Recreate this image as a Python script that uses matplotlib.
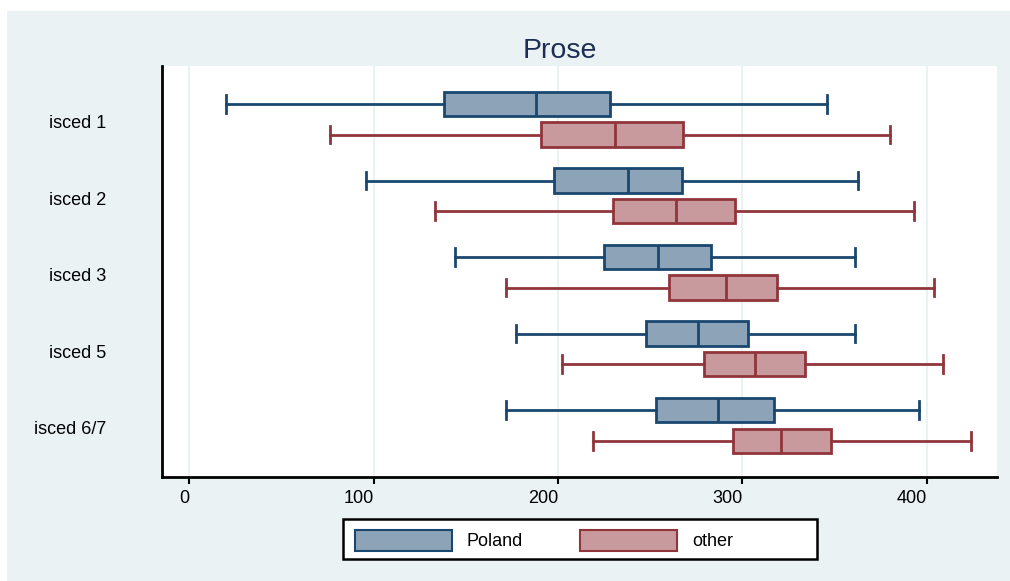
import matplotlib.pyplot as plt
import matplotlib.transforms as mtransforms
from matplotlib.patches import Rectangle

# Prose scores by education level: five-number summaries per group
levels = ["isced 1", "isced 2", "isced 3", "isced 5", "isced 6/7"]

poland_lo = [20, 96, 144, 177, 172]
poland_q1 = [138, 198, 225, 248, 253]
poland_med = [188, 238, 254, 276, 287]
poland_q3 = [228, 267, 283, 303, 317]
poland_hi = [346, 363, 361, 361, 396]

other_lo = [76, 133, 172, 202, 219]
other_q1 = [191, 230, 260, 279, 295]
other_med = [231, 264, 291, 307, 321]
other_q3 = [268, 296, 319, 334, 348]
other_hi = [380, 393, 404, 409, 424]

xticks = [0, 100, 200, 300, 400]

navy = "#1A476F"
navy_fill = "#8DA3B7"
maroon = "#90353B"
maroon_fill = "#C89A9D"
bg = "#EAF2F3"

plt.rcParams["font.family"] = ["Liberation Sans", "DejaVu Sans"]


def make_stats(lo, q1, med, q3, hi):
    return [dict(whislo=a, q1=b, med=c, q3=d, whishi=e, fliers=[])
            for a, b, c, d, e in zip(lo, q1, med, q3, hi)]


fig = plt.figure(figsize=(10.1, 5.81), dpi=100)
fig.patch.set_facecolor("white")
# graph region
fig.patches.append(Rectangle((7 / 1010, 0), 1 - 7 / 1010, 1 - 11 / 581,
                             transform=fig.transFigure, facecolor=bg,
                             edgecolor="none", zorder=-1))

ax = fig.add_axes([162 / 1010, 1 - 477 / 581, (997 - 162) / 1010, (477 - 66) / 581])
ax.set_facecolor("white")

groups = list(range(len(levels)))
off = 0.2
bw = 0.32

for stats, shift, edge, fill in [
    (make_stats(poland_lo, poland_q1, poland_med, poland_q3, poland_hi), -off, navy, navy_fill),
    (make_stats(other_lo, other_q1, other_med, other_q3, other_hi), off, maroon, maroon_fill),
]:
    ax.bxp(stats, positions=[g + shift for g in groups], widths=bw,
           orientation="horizontal", patch_artist=True, showfliers=False,
           capwidths=0.23,
           boxprops=dict(facecolor=fill, edgecolor=edge, linewidth=2),
           medianprops=dict(color=edge, linewidth=2),
           whiskerprops=dict(color=edge, linewidth=2),
           capprops=dict(color=edge, linewidth=2), zorder=3)

ax.set_xlim(-14.9, 438.2)
ax.set_ylim(4.673, -0.696)

ax.set_xticks(xticks)
ax.set_xticklabels([str(t) for t in xticks], ha="right")
ax.tick_params(axis="x", length=5, width=1.5, color="black", pad=4.5,
               labelsize=13, labelcolor="black")
ax.set_yticks(groups)
ax.set_yticklabels(levels)
ax.tick_params(axis="y", length=0, pad=40, labelsize=13, labelcolor="black")
# nudge category labels down a little
shift_down = mtransforms.ScaledTranslation(0, -2.5 / 100, fig.dpi_scale_trans)
for lab in ax.get_yticklabels():
    lab.set_horizontalalignment("right")
    lab.set_transform(lab.get_transform() + shift_down)

ax.grid(axis="x", color=bg, linewidth=1.5, zorder=0)
ax.set_axisbelow(True)
for side in ["top", "right"]:
    ax.spines[side].set_visible(False)
for side in ["left", "bottom"]:
    ax.spines[side].set_linewidth(2)
    ax.spines[side].set_color("black")

fig.text(560 / 1010, 1 - 51.5 / 581, "Prose", ha="center", va="center",
         fontsize=20.5, color="#1E2D54")

# legend drawn in figure pixels
def fx(px):
    return px / 1010


def fy(py):
    return 1 - py / 581


fig.patches.append(Rectangle((fx(343), fy(559)), fx(817) - fx(343), fy(519) - fy(559),
                             transform=fig.transFigure, facecolor="white",
                             edgecolor="black", linewidth=1.8, zorder=2))
for x0, name, edge, fill in [(355, "Poland", navy, navy_fill),
                             (580, "other", maroon, maroon_fill)]:
    fig.patches.append(Rectangle((fx(x0), fy(551)), fx(x0 + 97) - fx(x0), fy(530) - fy(551),
                                 transform=fig.transFigure, facecolor=fill,
                                 edgecolor=edge, linewidth=1.5, zorder=3))
    fig.text(fx(x0 + 112), fy(541.5), name, ha="left", va="center",
             fontsize=13, color="black", zorder=4)

fig.savefig("out.png", dpi=100, facecolor=fig.get_facecolor())
